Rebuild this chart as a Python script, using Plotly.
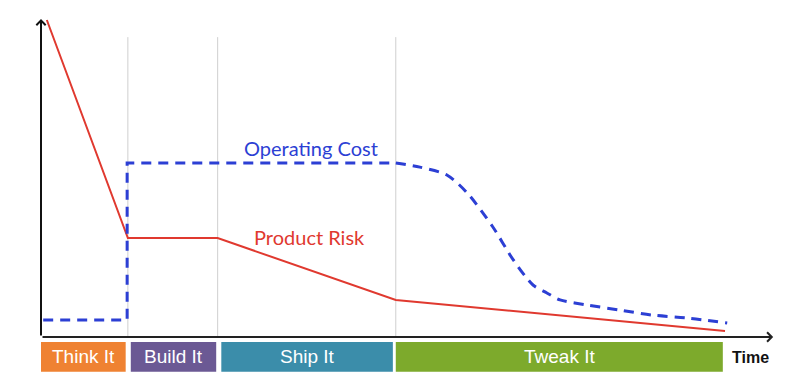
import plotly.graph_objects as go

# ---- data (time units 0..100, level units 0..100) ----
risk_x = [0.8, 11.9, 24.2, 48.6, 93.7]
risk_y = [100.0, 31.2, 31.2, 11.7, 1.9]

cost_x = [0.3, 11.8, 11.8, 48.6, 51.9, 55.6, 58.4, 61.9, 64.7, 67.4, 69.3, 71.1, 74.8, 79.3, 83.8, 88.5, 94.0]
cost_y = [5.4, 5.4, 54.9, 54.9, 53.6, 51.1, 45.4, 34.7, 24.3, 16.4, 13.9, 11.7, 10.1, 8.5, 6.9, 6.0, 4.4]
cost_step_n = 4  # first points form the step

phase_names = ["Think It", "Build It", "Ship It", "Tweak It"]
phase_start = [0.0, 12.3, 24.7, 48.6]
phase_end = [11.6, 24.0, 48.2, 93.4]
phase_colors = ["#EF8232", "#6B5994", "#3B8DAA", "#7DAA2C"]

milestones = [11.9, 24.2, 48.6]

series_labels = ["Operating Cost", "Product Risk"]
label_x = [37.0, 36.8]
label_y = [59.6, 31.5]

# ---- figure ----
fig = go.Figure()

RED = "#E0392F"
BLUE = "#2C3FD4"

fig.add_trace(go.Scatter(x=risk_x, y=risk_y, mode="lines",
                         line=dict(color=RED, width=2), hoverinfo="skip"))
fig.add_trace(go.Scatter(x=cost_x[:cost_step_n], y=cost_y[:cost_step_n], mode="lines",
                         line=dict(color=BLUE, width=3, dash="10px,7px"), hoverinfo="skip"))
fig.add_trace(go.Scatter(x=cost_x[cost_step_n - 1:], y=cost_y[cost_step_n - 1:], mode="lines",
                         line=dict(color=BLUE, width=3, dash="10px,7px", shape="spline", smoothing=0.8),
                         hoverinfo="skip"))

shapes = []
for m in milestones:
    shapes.append(dict(type="line", xref="x", yref="y", x0=m, x1=m, y0=0, y1=94.6,
                       line=dict(color="#CFCFCF", width=1), layer="below"))
for s, e, c in zip(phase_start, phase_end, phase_colors):
    shapes.append(dict(type="rect", xref="x", yref="y", x0=s, x1=e, y0=-1.6, y1=-11.0,
                       fillcolor=c, line=dict(width=0), layer="below"))

annotations = []
# axes with arrows
annotations.append(dict(x=0, y=100.3, ax=0, ay=0, xref="x", yref="y", axref="x", ayref="y",
                        showarrow=True, arrowhead=4, arrowsize=0.9, arrowwidth=2, arrowcolor="#111111",
                        text=""))
annotations.append(dict(x=100.3, y=0, ax=0, ay=0, xref="x", yref="y", axref="x", ayref="y",
                        showarrow=True, arrowhead=4, arrowsize=0.9, arrowwidth=2, arrowcolor="#222222",
                        text=""))
for n, s, e in zip(phase_names, phase_start, phase_end):
    annotations.append(dict(x=(s + e) / 2, y=-6.3, xref="x", yref="y", text=n, showarrow=False,
                            font=dict(family="Liberation Sans, Arial", size=19, color="white")))
annotations.append(dict(x=97.2, y=-6.6, xref="x", yref="y", text="<b>Time</b>", showarrow=False,
                        font=dict(family="Liberation Sans, Arial", size=16, color="#111111")))
for t, x, y, c in zip(series_labels, label_x, label_y, [BLUE, RED]):
    annotations.append(dict(x=x, y=y, xref="x", yref="y", text=t, showarrow=False,
                            font=dict(family="Lato, Noto Sans", size=20, color=c)))

# page has an 8px body margin; figure pixel = reference pixel - 8
OFF = 8
W, H = 780, 370
ml, mr, mt, mb = 12, 4, 4, 4
xpx = 7.3
ypx = 3.17
x0px = 41 - OFF
y0px = 337 - OFF
x_lo = (ml - x0px) / xpx
x_hi = (W - mr - x0px) / xpx
y_hi = (y0px - mt) / ypx
y_lo = (y0px - (H - mb)) / ypx

fig.update_layout(
    width=W, height=H,
    margin=dict(l=ml, r=mr, t=mt, b=mb),
    paper_bgcolor="white", plot_bgcolor="white",
    showlegend=False,
    shapes=shapes, annotations=annotations,
    xaxis=dict(range=[x_lo, x_hi], visible=False, fixedrange=True),
    yaxis=dict(range=[y_lo, y_hi], visible=False, fixedrange=True),
)

fig.write_html("out.html")
